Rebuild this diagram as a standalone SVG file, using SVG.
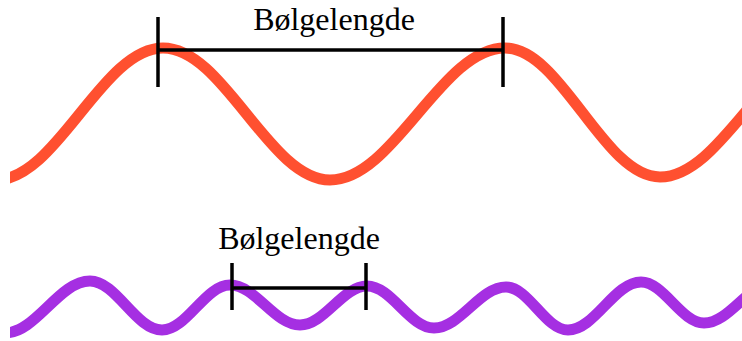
<svg xmlns="http://www.w3.org/2000/svg" width="742" height="341" viewBox="0 0 742 341">
  <style>
    .wave { fill: none; stroke-width: 11; stroke-linecap: butt; }
    .red { stroke: #FF5030; }
    .purple { stroke: #A52FE2; }
    .bar { stroke: #000; stroke-width: 3.5; fill: none; }
    .lbl { font-family: "Liberation Serif", "Times New Roman", serif; font-size: 32px; fill: #000; text-anchor: middle; }
  </style>
  <defs>
    <clipPath id="clip"><rect x="10" y="0" width="732" height="341"/></clipPath>
  </defs>
  <g id="waves" clip-path="url(#clip)">
    <path id="red-wave" class="wave red" d="M -4 180 C 56.8 180, 102.2 48, 163 48 C 223.8 48, 269.2 180, 330 180 C 393.7 180, 441.3 48, 505 48 C 561.4 48, 603.6 177, 660 177 C 721.9 177, 768.1 48, 830 48"/>
    <path id="purple-wave" class="wave purple" d="M 5 333 C 35.9 333, 59.1 281, 90 281 C 116.2 281, 135.8 330, 162 330 C 186.8 330, 205.2 285, 230 285 C 255.5 285, 274.5 325, 300 325 C 324.4 325, 342.6 286, 367 286 C 391.4 286, 409.6 328, 434 328 C 460.2 328, 479.8 287, 506 287 C 528.6 287, 545.4 330, 568 330 C 594.6 330, 614.4 282, 641 282 C 663.9 282, 681.1 323, 704 323 C 729.8 323, 749.2 282, 775 282"/>
  </g>
  <g id="connectors">
    <g id="wavelength-top">
      <line class="bar" x1="158" y1="17" x2="158" y2="87"/>
      <line class="bar" x1="503" y1="17" x2="503" y2="87"/>
      <line class="bar" x1="158" y1="50" x2="503" y2="50"/>
    </g>
    <g id="wavelength-bottom">
      <line class="bar" x1="232" y1="263" x2="232" y2="310"/>
      <line class="bar" x1="366" y1="263" x2="366" y2="310"/>
      <line class="bar" x1="232" y1="288" x2="366" y2="288"/>
    </g>
  </g>
  <g id="label-top"><text class="lbl" x="334" y="30">Bølgelengde</text></g>
  <g id="label-bottom"><text class="lbl" x="299" y="249">Bølgelengde</text></g>
</svg>
